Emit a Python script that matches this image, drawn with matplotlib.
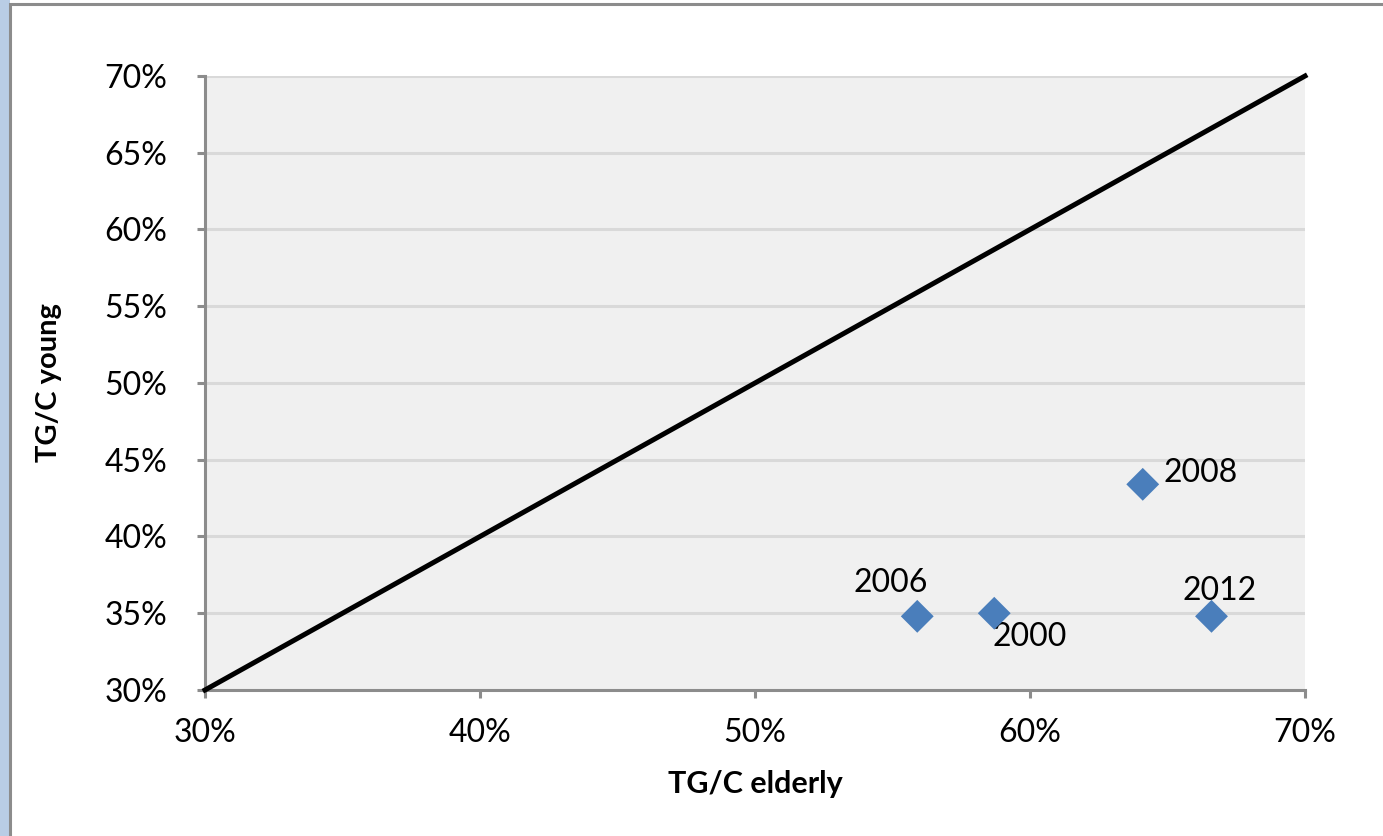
import matplotlib

matplotlib.use("Agg")
import matplotlib.pyplot as plt
from matplotlib.patches import Rectangle
from matplotlib.ticker import FuncFormatter, MultipleLocator

# values (fractions)
years = ["2006", "2000", "2008", "2012"]
tgc_elderly = [0.559, 0.587, 0.641, 0.666]
tgc_young = [0.348, 0.350, 0.434, 0.348]
label_offsets = [(-46, 24), (-1.5, -17), (15, 8.5), (-21, 18.5)]
parity = [0.30, 0.70]

plt.rcParams["font.family"] = ["Lato", "DejaVu Sans"]

fig = plt.figure(figsize=(13.83, 8.36), dpi=100)

# frame around the chart, left blue strip like the source
fig.patches.append(Rectangle((0, 0), 0.0072, 1, transform=fig.transFigure,
                             facecolor="#b9cde5", edgecolor="none", zorder=-10))
fig.patches.append(Rectangle((0.0072, -0.01), 1.0, 1.005, transform=fig.transFigure,
                             facecolor="white", edgecolor="#8c8c8c", linewidth=2.2, zorder=-10))

ax = fig.add_axes([205 / 1383, 1 - 690 / 836, 1100 / 1383, 614 / 836])
ax.set_facecolor("#f0f0f0")

ax.plot(parity, parity, color="black", linewidth=3.6, clip_on=False, zorder=3)
ax.scatter(tgc_elderly, tgc_young, marker="D", s=280, color="#4a7ebb",
           edgecolors="none", zorder=4)
for year, x, y, off in zip(years, tgc_elderly, tgc_young, label_offsets):
    ax.annotate(year, (x, y), xytext=off, textcoords="offset points",
                fontsize=23, va="center", ha="left")

ax.set_xlim(0.30, 0.70)
ax.set_ylim(0.30, 0.70)
ax.xaxis.set_major_locator(MultipleLocator(0.10))
ax.yaxis.set_major_locator(MultipleLocator(0.05))
pct = FuncFormatter(lambda v, _: f"{v * 100:.0f}%")
ax.xaxis.set_major_formatter(pct)
ax.yaxis.set_major_formatter(pct)

ax.grid(axis="y", color="#d9d9d9", linewidth=2.2)
ax.set_axisbelow(True)
for side in ("top", "right"):
    ax.spines[side].set_visible(False)
for side in ("left", "bottom"):
    ax.spines[side].set_color("#8c8c8c")
    ax.spines[side].set_linewidth(2.2)
ax.tick_params(axis="both", colors="#8c8c8c", length=6, width=2.2,
               labelcolor="black", labelsize=23)
ax.tick_params(axis="y", pad=21)
ax.tick_params(axis="x", pad=14)

ax.set_xlabel("TG/C elderly", fontsize=22, fontweight="bold", labelpad=16)
ax.set_ylabel("TG/C young", fontsize=21, fontweight="bold", labelpad=31)

fig.savefig("out.png", dpi=100)
